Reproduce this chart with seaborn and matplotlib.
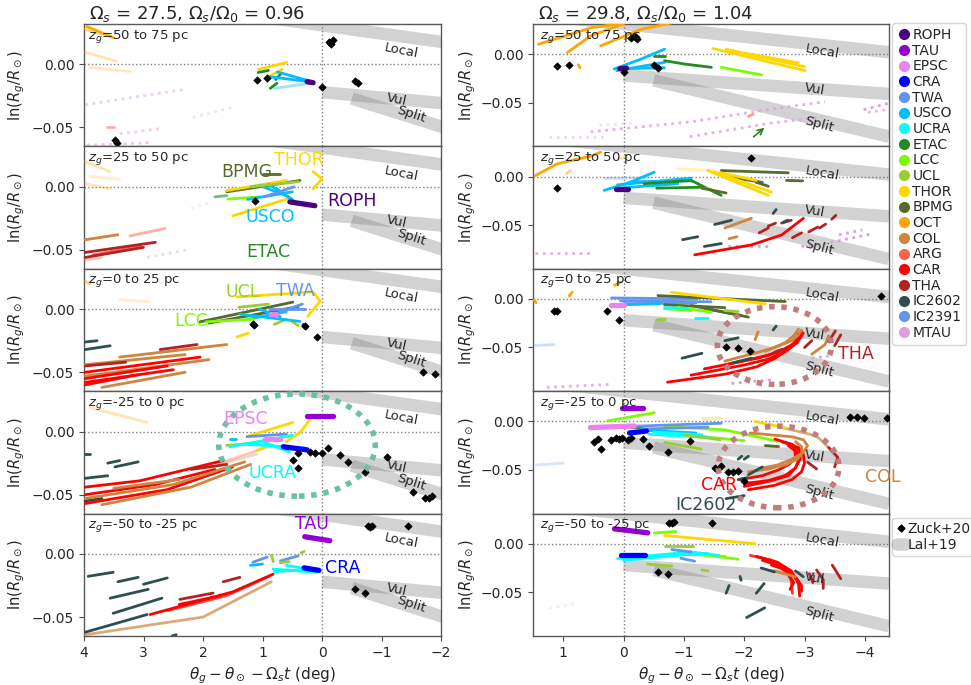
import numpy as np
import pandas as pd
import matplotlib
matplotlib.use("Agg")
import matplotlib.pyplot as plt
import seaborn as sns
from matplotlib.patches import Ellipse
from matplotlib.lines import Line2D

# ---------------- groups / colours ----------------
GROUPS = ["ROPH", "TAU", "EPSC", "CRA", "TWA", "USCO", "UCRA", "ETAC", "LCC", "UCL",
          "THOR", "BPMG", "OCT", "COL", "ARG", "CAR", "THA", "IC2602", "IC2391", "MTAU"]
COLORS = ["indigo", "darkviolet", "violet", "blue", "cornflowerblue", "deepskyblue", "cyan",
          "forestgreen", "lawngreen", "yellowgreen", "gold", "darkolivegreen", "orange", "peru",
          "tomato", "red", "firebrick", "darkslategray", "cornflowerblue", "plum"]
PAL = dict(zip(GROUPS, COLORS))

TITLES = [r"$\Omega_s$ = 27.5, $\Omega_s/\Omega_0$ = 0.96", r"$\Omega_s$ = 29.8, $\Omega_s/\Omega_0$ = 1.04"]
ZBINS = ["50 to 75", "25 to 50", "0 to 25", "-25 to 0", "-50 to -25"]
XTICKS_L = [4, 3, 2, 1, 0, -1, -2]
XTICKS_R = [1, 0, -1, -2, -3, -4]

# spiral arms (Lal+19)
ARM_names = ["Local", "Vul", "Split"]
ARM_x = [[1.0, -4.4], [0.0, -4.4], [-0.5, -4.4]]
ARM_y = [[0.0376, 0.002], [-0.022, -0.041], [-0.027, -0.085]]

# ---------------- left column tracks ----------------
L1_g = ["OCT", "OCT", "OCT", "OCT", "MTAU", "MTAU", "MTAU", "MTAU", "ARG", "THOR", "THOR",
        "ETAC", "ETAC", "ETAC", "USCO", "USCO", "USCO", "ROPH"]
L1_x = [[3.95, 3.5], [3.98, 3.7], [3.98, 3.45], [3.9, 3.23], [3.98, 2.34], [2.17, 1.5], [3.4, 2.72],
        [3.95, 2.84], [3.62, 3.5], [1.07, 0.59], [0.93, 0.67], [1.07, 0.9], [0.87, 0.76], [0.78, 0.7],
        [0.91, 0.2], [0.75, 0.15], [0.8, 0.2], [0.25, 0.15]]
L1_y = [[0.030, 0.021], [0.028, 0.024], [0.0097, 0.0024], [-0.0024, -0.0056], [-0.032, -0.020],
        [-0.042, -0.034], [-0.055, -0.051], [-0.064, -0.062], [-0.050, -0.050], [-0.004, 0.0016],
        [-0.0105, -0.004], [-0.0064, -0.0048], [-0.019, -0.015], [-0.012, -0.008],
        [-0.0097, -0.0137], [-0.006, -0.014], [-0.019, -0.015], [-0.0137, -0.0145]]
L1_a = [1, 0.5, 0.3, 0.25, 0.5, 0.3, 0.5, 0.6, 0.5, 1, 1, 1, 1, 1, 1, 1, 0.4, 1]
L1_zx = [3.48, 3.45, 1.09, 0.92, 0.0, -0.12, -0.15, -0.18, -0.55, -0.6]
L1_zy = [-0.060, -0.062, -0.012, -0.011, -0.018, 0.018, 0.016, 0.019, -0.0135, -0.015]

L2_g = ["OCT", "OCT", "OCT", "COL", "THA", "THA", "CAR", "ARG", "COL", "MTAU", "MTAU", "BPMG",
        "BPMG", "THOR", "THOR", "THOR", "LCC", "USCO", "USCO", "USCO", "USCO", "TWA", "ROPH",
        "ETAC", "UCL"]
L2_x = [[3.98, 3.56], [3.98, 3.56], [3.9, 3.4], [3.98, 3.43], [3.98, 2.8], [3.98, 3.0], [3.85, 3.05],
        [3.23, 2.64], [3.98, 3.7], [2.94, 2.27], [2.2, 1.9], [1.6, 0.37], [1.0, 0.7], [1.5, 0.54],
        [1.6, 0.6], [0.15, 0.0, 0.15], [1.58, 1.04], [1.25, 0.5], [1.05, 0.6], [0.9, 0.5],
        [0.75, 0.45], [0.97, 0.47], [0.54, 0.12], [1.8, 1.6], [1.2, 0.4]]
L2_y = [[0.020, 0.012], [0.0024, -0.0016], [0.008, 0.006], [-0.042, -0.038], [-0.052, -0.044],
        [-0.056, -0.048], [-0.054, -0.047], [-0.039, -0.033], [-0.058, -0.056], [-0.056, -0.050],
        [-0.017, -0.013], [-0.004, 0.005], [0.010, 0.010], [-0.023, -0.009], [-0.003, 0.005],
        [0.012, 0.0064, -0.0016], [-0.0097, -0.008], [-0.010, -0.004], [0.001, -0.007],
        [0.002, -0.010], [-0.002, -0.012], [-0.008, 0.0], [-0.012, -0.015], [-0.008, -0.007],
        [0.0, 0.004]]
L2_a = [0.3, 0.3, 0.2, 1, 1, 1, 0.6, 0.5, 0.4, 0.4, 0.2, 1, 1, 1, 1, 1, 1, 1, 1, 1, 1, 1, 1, 0.6, 1]
L2_zx = [1.13]
L2_zy = [-0.011]

L3_g = ["IC2602", "IC2602", "COL", "THA", "CAR", "CAR", "CAR", "COL", "COL", "THA", "COL", "CAR",
        "OCT", "OCT", "BPMG", "BPMG", "UCL", "THOR", "THOR", "USCO", "USCO", "USCO", "TWA", "TWA",
        "LCC", "UCL", "UCL", "EPSC", "ROPH"]
L3_x = [[3.98, 3.78], [3.98, 3.56], [3.4, 1.6], [2.72, 2.1], [3.98, 2.05], [3.98, 2.6], [3.98, 3.1],
        [3.98, 1.9], [3.7, 2.3], [3.98, 3.3], [3.98, 2.3], [3.98, 2.5], [3.98, 3.9], [3.4, 2.9],
        [2.05, 0.49], [1.9, 0.4], [1.4, 0.9], [1.43, 0.15, 0.03, 0.24], [1.43, 1.24], [1.38, 0.37],
        [1.25, 0.6], [1.05, 0.7], [0.87, 0.29], [0.7, 0.33], [1.95, 1.15], [0.8, 0.6], [0.5, 0.4],
        [0.85, 0.78], [0.3, 0.27]]
L3_y = [[-0.026, -0.025], [-0.032, -0.029], [-0.038, -0.028], [-0.032, -0.028], [-0.050, -0.038],
        [-0.055, -0.045], [-0.060, -0.052], [-0.053, -0.040], [-0.062, -0.050], [-0.045, -0.042],
        [-0.044, -0.036], [-0.058, -0.048], [0.022, 0.020], [0.0075, 0.006], [-0.010, 0.0056],
        [-0.011, 0.002], [0.0015, 0.004], [0.0097, 0.0137, 0.0064, -0.0056], [-0.022, -0.019],
        [-0.004, -0.0097], [-0.008, -0.002], [0.0, -0.006], [0.0, 0.0], [-0.002, 0.004],
        [-0.010, -0.008], [-0.012, -0.008], [-0.010, -0.013], [-0.004, -0.004], [-0.013, -0.014]]
L3_a = [1, 1, 1, 1, 1, 1, 1, 1, 1, 1, 1, 1, 0.5, 0.2, 1, 1, 1, 1, 1, 1, 1, 1, 1, 1, 1, 1, 1, 1, 1]
L3_zx = [1.16, 1.14, 0.29, 0.08, -1.7, -1.9]
L3_zy = [-0.012, -0.0125, -0.0137, -0.022, -0.050, -0.0516]

L4_g = ["OCT", "IC2602", "IC2602", "IC2602", "IC2602", "IC2602", "CAR", "CAR", "CAR", "THA", "COL",
        "COL", "COL", "COL", "CAR", "THOR", "THOR", "THOR", "UCL", "TWA", "EPSC", "UCRA", "UCRA",
        "UCRA", "CRA", "USCO", "TAU"]
L4_x = [[3.9, 2.94], [3.98, 3.6], [3.6, 3.4], [3.48, 3.09], [3.98, 3.7], [3.98, 3.9],
        [3.98, 3.06, 1.66], [3.98, 2.8, 1.8], [3.98, 2.6, 1.5], [2.2, 1.6], [3.98, 2.5, 1.3],
        [3.7, 2.2, 1.2], [3.5, 2.4], [2.0, 1.1], [1.7, 0.9], [1.26, 0.49], [0.6, 0.35, 0.2],
        [1.1, 0.95], [1.6, 1.1], [1.26, 0.6], [0.95, 0.7], [1.55, 0.5], [1.3, 0.3], [1.0, 0.55],
        [0.65, 0.25], [1.55, 1.45], [0.25, -0.19]]
L4_y = [[0.019, 0.0073], [-0.037, -0.035], [-0.025, -0.023], [-0.028, -0.024], [-0.055, -0.053],
        [-0.018, -0.018], [-0.044, -0.039, -0.023], [-0.050, -0.042, -0.030],
        [-0.057, -0.046, -0.028], [-0.030, -0.026], [-0.053, -0.042, -0.024],
        [-0.058, -0.044, -0.026], [-0.045, -0.038], [-0.030, -0.018], [-0.025, -0.012],
        [-0.004, 0.0073], [-0.008, 0.0, 0.0098], [-0.015, -0.012], [-0.011, -0.009],
        [-0.004, -0.002], [-0.006, -0.006], [-0.012, -0.003], [-0.010, -0.013], [-0.008, -0.016],
        [-0.012, -0.0145], [-0.006, -0.006], [0.012, 0.012]]
L4_a = [0.3, 1, 1, 1, 1, 1, 1, 1, 1, 1, 1, 1, 1, 0.3, 0.25, 1, 1, 1, 1, 1, 1, 1, 1, 1, 1, 1, 1]
L4_zx = [0.4, 0.49, 0.4, 0.2, 0.12, 0.0, -0.1, -0.3, -0.44, -0.72, -1.09, -1.53, -1.73, -1.8, -1.85]
L4_zy = [-0.017, -0.0226, -0.029, -0.016, -0.017, -0.017, -0.013, -0.0185, -0.024, -0.032, -0.020,
         -0.048, -0.053, -0.053, -0.051]

L5_g = ["IC2602", "IC2602", "IC2602", "IC2602", "IC2602", "IC2602", "IC2602", "COL", "CAR", "CAR",
        "CAR", "THA", "THA", "TWA", "TWA", "USCO", "UCL", "UCL", "UCL", "UCRA", "UCRA", "UCRA",
        "CRA", "TAU"]
L5_x = [[3.93, 3.51], [3.43, 3.09], [3.0, 2.6], [3.56, 2.92], [3.51, 2.69], [3.98, 2.94], [2.52, 2.45],
        [3.98, 2.0, 0.85], [2.89, 1.5, 0.82], [2.6, 1.6, 0.9], [2.4, 1.7], [2.39, 1.83], [1.66, 1.38],
        [1.16, 0.92], [0.7, 0.4], [1.2, 1.0], [0.85, 0.82], [0.7, 0.55], [0.35, 0.3], [0.82, 0.08],
        [0.8, 0.2], [0.6, 0.1], [0.3, 0.05], [0.29, -0.13]]
L5_y = [[-0.0177, -0.0145], [-0.022, -0.0185], [-0.024, -0.019], [-0.035, -0.028], [-0.047, -0.035],
        [-0.062, -0.048], [-0.065, -0.064], [-0.064, -0.050, -0.022], [-0.048, -0.030, -0.016],
        [-0.045, -0.033, -0.018], [-0.040, -0.033], [-0.036, -0.031], [-0.022, -0.0185],
        [-0.0065, -0.0024], [-0.0055, -0.0015], [-0.009, -0.008], [-0.001, -0.006], [-0.007, -0.006],
        [0.001, 0.002], [-0.012, -0.0145], [-0.014, -0.012], [-0.009, -0.013], [-0.011, -0.013],
        [0.0137, 0.0105]]
L5_a = [1, 1, 1, 1, 1, 1, 1, 0.7, 1, 0.7, 1, 1, 1, 1, 1, 1, 1, 1, 1, 1, 1, 1, 1, 1]
L5_zx = [-0.78, -0.84, -0.81, -1.45, -0.55, -0.72]
L5_zy = [0.022, 0.022, 0.021, 0.022, -0.028, -0.031]

# ---------------- right column tracks ----------------
R1_g = ["OCT", "OCT", "OCT", "OCT", "USCO", "USCO", "USCO", "ROPH", "ETAC", "ETAC", "LCC", "THOR",
        "THOR", "THOR", "THOR", "MTAU", "MTAU", "MTAU", "MTAU", "MTAU", "MTAU", "ARG"]
R1_x = [[1.41, 0.54, -0.01], [0.93, 0.54, 0.0], [0.38, -0.29, -0.79], [0.75, 0.72],
        [0.155, -0.29, -0.68], [0.11, -0.68], [0.0, -0.68], [0.06, -0.05], [-0.5, -0.68],
        [-0.68, -1.01, -1.456], [-1.62, -2.29], [-1.48, -3.01], [-1.7, -2.8], [-2.0, -2.9],
        [-2.1, -3.0], [0.545, -1.12, -2.51, -3.34], [-1.1, -2.4, -3.3], [1.24, 0.32], [0.4, -0.2],
        [-3.98, -4.4], [-4.05, -4.4], [-2.07, -2.15]]
R1_y = [[0.0102, 0.027, 0.032], [0.0017, 0.019, 0.031], [0.0085, 0.0255, 0.032], [-0.011, -0.014],
        [-0.0153, -0.0051, 0.0051], [-0.017, -0.0085], [-0.015, -0.014], [-0.015, -0.0145],
        [-0.0017, -0.0017], [-0.0068, -0.0102, -0.0136], [-0.0136, -0.0214], [0.0058, -0.017],
        [0.005, -0.010], [0.001, -0.009], [0.000, -0.013], [-0.080, -0.0697, -0.056, -0.049],
        [-0.085, -0.0714, -0.0646], [-0.085, -0.085], [-0.073, -0.071], [-0.0572, -0.0505],
        [-0.060, -0.057], [-0.064, -0.062]]
R1_a = [1, 1, 1, 1, 1, 1, 1, 1, 1, 1, 1, 1, 1, 1, 1, 0.8, 0.8, 0.4, 0.3, 1, 0.7, 0.6]
R1_zx = [1.1, 0.9, 0.0, -0.13, -0.18, -0.2, -0.23, -0.51, -0.57]
R1_zy = [-0.012, -0.011, -0.018, 0.017, 0.019, 0.018, 0.016, -0.011, -0.0143]

R2_g = ["OCT", "OCT", "OCT", "IC2391", "USCO", "USCO", "USCO", "USCO", "ROPH", "ETAC", "ETAC",
        "LCC", "BPMG", "BPMG", "BPMG", "BPMG", "BPMG", "THOR", "THOR", "THOR", "THOR", "CAR",
        "THA", "THA", "THA", "THA", "THA", "THA", "THA", "COL", "COL", "IC2602", "IC2602", "IC2602",
        "IC2602", "IC2602", "MTAU", "MTAU", "MTAU", "MTAU"]
R2_x = [[1.46, 1.1, 0.545, 0.38], [0.95, 0.88], [0.1, -0.05], [0.32, -0.45], [0.32, -0.12, -0.51],
        [0.1, -1.12], [0.0, -0.9], [-0.12, -1.12], [0.13, -0.07], [-0.34, -1.12, -1.62],
        [-0.55, -1.3], [-1.3, -1.45], [-1.62, -2.73], [-2.7, -2.97], [-1.7, -2.3], [-1.3, -1.7],
        [-2.2, -2.4], [-1.4, -2.4], [-1.5, -2.45], [-1.6, -2.2], [-0.9, -1.5],
        [-1.18, -2.12, -2.62, -2.98], [-2.25, -2.4], [-2.4, -2.52], [-2.62, -2.78], [-2.8, -2.95],
        [-3.07, -3.22], [-3.25, -3.35], [-3.45, -3.52], [-1.68, -2.12], [-1.75, -1.88],
        [-1.51, -1.79], [-0.98, -1.23], [-1.34, -1.62], [-2.48, -2.53], [-2.65, -2.72],
        [-3.57, -3.96], [-2.95, -3.34, -4.12], [-1.73, -2.4], [1.46, 0.545]]
R2_y = [[0.001, 0.013, 0.021, 0.025], [0.003, 0.006], [0.017, 0.021], [-0.002, -0.001],
        [-0.0143, -0.0057, 0.0045], [-0.0085, -0.0017], [-0.0115, -0.0075], [-0.0055, -0.0045],
        [-0.0133, -0.0133], [-0.0074, -0.004, -0.0194], [-0.012, -0.011], [-0.012, -0.013],
        [0.0061, 0.0038], [-0.004, -0.0045], [0.0, -0.006], [-0.012, -0.017], [-0.006, -0.010],
        [0.0061, -0.0194], [0.005, -0.016], [0.004, -0.004], [0.008, 0.006],
        [-0.0806, -0.0704, -0.0602, -0.0431], [-0.058, -0.053], [-0.051, -0.048], [-0.048, -0.045],
        [-0.063, -0.058], [-0.057, -0.052], [-0.053, -0.049], [-0.044, -0.040], [-0.053, -0.043],
        [-0.064, -0.062], [-0.0494, -0.045], [-0.065, -0.062], [-0.072, -0.069], [-0.038, -0.034],
        [-0.047, -0.045], [-0.060, -0.055], [-0.072, -0.069, -0.059], [-0.072, -0.072],
        [-0.079, -0.079]]
R2_a = [1, 0.5, 0.3, 0.3, 1, 1, 1, 1, 1, 1, 1, 1, 1, 1, 1, 1, 1, 1, 1, 1, 0.3, 1, 1, 1, 1, 1, 1,
        1, 1, 1, 1, 1, 1, 1, 1, 1, 1, 1, 1, 0.8]
R2_zx = [1.1, -2.12]
R2_zy = [-0.0119, 0.0188]

R3_g = ["OCT", "OCT", "OCT", "TWA", "IC2391", "IC2391", "IC2391", "EPSC", "USCO", "BPMG", "BPMG",
        "BPMG", "BPMG", "THOR", "LCC", "LCC", "UCRA", "UCRA", "UCL", "UCL", "CAR", "CAR", "CAR",
        "CAR", "COL", "COL", "COL", "COL", "THA", "THA", "THA", "THA", "IC2602", "IC2602",
        "IC2602", "IC2602", "MTAU", "MTAU", "MTAU"]
R3_x = [[1.48, 1.45], [0.9, 0.85], [0.15, 0.05], [0.2, -1.22], [0.05, -1.45], [0.0, -1.2],
        [1.46, 1.15], [0.2, 0.0], [0.0, -0.6], [-0.57, -2.68], [-1.12, -2.07], [-1.35, -1.95],
        [-0.68, -1.68], [-0.79, -2.35], [-0.9, -1.45], [-0.68, -1.12], [-0.68, -1.07], [-1.18, -1.4],
        [-0.55, -0.68], [-1.68, -1.9], [-0.73, -1.68, -2.2, -2.51, -2.75, -2.9],
        [-1.12, -2.0, -2.4, -2.68, -2.88, -2.98], [-1.34, -2.23, -2.55, -2.79, -2.9, -2.95],
        [-1.68, -2.4, -2.65, -2.82, -2.9], [-1.68, -2.23, -2.55, -2.79, -2.9, -2.95],
        [-2.35, -2.68, -2.82, -2.9], [-2.18, -2.23], [-3.12, -3.34, -3.4], [-3.0, -3.12],
        [-3.4, -3.51], [-3.5, -3.6], [-2.5, -2.62], [-0.97, -1.3], [-1.68, -1.9], [-2.48, -2.53],
        [-1.8, -2.12], [-3.12, -3.4], [-1.79, -2.51], [1.27, 0.21]]
R3_y = [[-0.001, -0.004], [0.003, 0.007], [0.014, 0.017], [0.001, 0.0], [-0.002, -0.003],
        [-0.005, -0.004], [-0.048, -0.047], [-0.006, -0.006], [-0.006, -0.005], [0.0034, -0.0027],
        [-0.0068, -0.0187], [-0.010, -0.017], [-0.006, -0.009], [0.0068, -0.0051],
        [-0.0085, -0.0136], [-0.010, -0.012], [-0.009, -0.010], [-0.0197, -0.0197],
        [-0.021, -0.021], [-0.012, -0.013], [-0.0857, -0.0775, -0.070, -0.0612, -0.051, -0.0408],
        [-0.0785, -0.068, -0.062, -0.0544, -0.045, -0.035],
        [-0.072, -0.061, -0.055, -0.048, -0.041, -0.034], [-0.068, -0.058, -0.052, -0.046, -0.036],
        [-0.064, -0.055, -0.049, -0.043, -0.037, -0.032], [-0.054, -0.045, -0.038, -0.031],
        [-0.042, -0.034], [-0.057, -0.047, -0.038], [-0.050, -0.043], [-0.044, -0.033],
        [-0.048, -0.037], [-0.055, -0.052], [-0.061, -0.056], [-0.043, -0.040], [-0.032, -0.028],
        [-0.066, -0.061], [-0.061, -0.059], [-0.087, -0.083], [-0.091, -0.088]]
R3_a = [1, 1, 1, 1, 1, 1, 0.3, 1, 1, 1, 1, 1, 1, 1, 1, 1, 1, 1, 1, 1, 1, 1, 1, 1, 1, 1, 1, 1, 1,
        1, 1, 1, 1, 1, 1, 1, 1, 1, 0.8]
R3_zx = [1.16, 1.1, 0.27, 0.07, -1.7, -1.9, -2.1, -4.26]
R3_zy = [-0.012, -0.012, -0.012, -0.0214, -0.049, -0.051, -0.054, 0.0034]

R4_g = ["TAU", "LCC", "EPSC", "CRA", "ETAC", "IC2391", "IC2391", "USCO", "UCRA", "UCRA", "LCC",
        "LCC", "UCL", "UCL", "THOR", "THOR", "BPMG", "CAR", "CAR", "CAR", "CAR", "COL", "COL",
        "COL", "THA", "THA", "IC2602", "IC2602", "IC2602", "IC2602", "IC2602", "IC2391"]
R4_x = [[0.02, -0.32], [0.27, -0.51], [0.55, -0.18], [-0.1, -0.38], [-0.12, -0.3],
        [-0.2, -1.12, -1.62], [-0.3, -1.4], [-0.3, -1.2], [-0.42, -1.42], [-0.5, -1.3],
        [-0.68, -1.68, -2.57], [-1.2, -2.0], [-0.68, -1.29], [-1.0, -1.6], [-2.18, -2.68],
        [-1.3, -1.62], [-2.35, -2.57],
        [-2.0, -2.4, -2.68, -2.85, -2.93, -2.92, -2.79, -2.51],
        [-2.07, -2.5, -2.79, -2.95, -3.0, -2.98, -2.9, -2.62],
        [-1.93, -2.3, -2.57, -2.75, -2.85, -2.84, -2.73],
        [-2.0, -2.4, -2.73, -2.85, -2.9, -2.88, -2.8],
        [-2.07, -2.4, -2.68, -2.88, -2.96, -2.95, -2.85],
        [-2.23, -2.55, -2.79, -2.98, -3.05, -2.98, -2.8, -2.1], [-2.6, -3.2, -3.45],
        [-3.4, -3.55, -3.5], [-3.05, -3.2], [-1.9, -1.96], [-2.0, -2.07], [-2.07, -2.3],
        [-1.7, -2.0], [-1.9, -2.05], [1.45, 1.0]]
R4_y = [[0.014, 0.014], [0.0003, 0.0089], [-0.0065, -0.0048], [-0.012, -0.010], [-0.006, -0.006],
        [-0.005, -0.003, -0.002], [-0.008, -0.006], [-0.009, -0.012], [-0.0133, -0.0166],
        [-0.011, -0.014], [-0.0054, -0.0088, -0.0207], [-0.015, -0.020], [-0.0218, -0.0286],
        [-0.014, -0.019], [-0.0003, -0.0065], [0.003, 0.003], [-0.025, -0.026],
        [-0.064, -0.061, -0.0558, -0.048, -0.0388, -0.030, -0.0235, -0.0184],
        [-0.0704, -0.066, -0.060, -0.052, -0.043, -0.034, -0.027, -0.021],
        [-0.060, -0.056, -0.050, -0.044, -0.037, -0.030, -0.025],
        [-0.067, -0.062, -0.056, -0.048, -0.040, -0.032, -0.026],
        [-0.052, -0.049, -0.045, -0.039, -0.033, -0.026, -0.021],
        [-0.049, -0.045, -0.039, -0.032, -0.025, -0.019, -0.016, -0.012],
        [-0.006, -0.015, -0.030], [-0.027, -0.037, -0.047], [-0.042, -0.049], [-0.039, -0.036],
        [-0.039, -0.036], [-0.055, -0.047], [-0.0796, -0.0765], [-0.060, -0.058], [-0.045, -0.043]]
R4_a = [1, 1, 1, 1, 1, 1, 1, 1, 1, 1, 1, 1, 1, 1, 1, 0.4, 1, 1, 1, 1, 1, 1, 1, 0.7, 1, 1, 1, 1, 1,
        1, 1, 0.25]
R4_zx = [0.49, 0.43, 0.38, 0.2, 0.12, 0.07, 0.02, -0.07, -0.12, -0.32, -0.43, -0.74, -1.1, -1.51,
         -1.62, -1.73, -1.82, -1.9, -2.0, -3.76, -3.87, -3.98, -4.37]
R4_zy = [-0.0208, -0.0184, -0.0286, -0.019, -0.0175, -0.0185, -0.0175, -0.019, -0.017, -0.018,
         -0.025, -0.032, -0.020, -0.048, -0.046, -0.052, -0.052, -0.051, -0.061, 0.0045, 0.0045,
         0.0035, 0.003]

R5_g = ["TAU", "LCC", "THOR", "UCL", "CRA", "UCRA", "UCRA", "UCRA", "IC2391", "TWA", "LCC", "LCC",
        "UCL", "UCL", "CAR", "CAR", "CAR", "CAR", "COL", "IC2602", "IC2602", "IC2602", "IC2602",
        "IC2602", "IC2602", "THA", "THA", "THA", "MTAU"]
R5_x = [[0.15, -0.4], [-0.51, -0.87], [-0.68, -2.18], [-0.68, -1.15], [0.04, -0.35],
        [0.1, -1.12, -1.57], [0.0, -0.9], [-0.3, -1.4], [-0.8, -1.12], [-0.95, -1.18], [-1.0, -1.9],
        [-1.12, -1.68], [-0.4, -0.8], [-1.3, -1.4], [-2.1, -2.45, -2.68, -2.78, -2.8],
        [-2.2, -2.55, -2.78, -2.9, -2.92], [-2.3, -2.55, -2.72, -2.82, -2.76],
        [-2.45, -2.7, -2.86, -2.95, -2.95], [-2.5, -2.85], [-2.28, -2.5], [-2.85, -2.98],
        [-1.93, -1.95], [-1.75, -1.7], [-2.33, -2.2], [-2.34, -2.04], [-3.2, -3.31, -3.31],
        [-3.46, -3.6], [-3.08, -3.14], [1.23, 0.8]]
R5_y = [[0.0153, 0.0112], [0.011, 0.0126], [0.0085, 0.0], [-0.0026, -0.0026], [-0.012, -0.012],
        [-0.0153, -0.0085, -0.012], [-0.017, -0.012], [-0.014, -0.010], [-0.006, -0.0085],
        [-0.015, -0.018], [-0.0085, -0.016], [-0.011, -0.013], [-0.021, -0.023], [-0.027, -0.028],
        [-0.012, -0.017, -0.025, -0.038, -0.051], [-0.013, -0.019, -0.028, -0.041, -0.054],
        [-0.017, -0.022, -0.030, -0.040, -0.047], [-0.022, -0.027, -0.035, -0.043, -0.049],
        [-0.028, -0.034], [-0.025, -0.029], [-0.028, -0.034], [-0.0337, -0.0377], [-0.043, -0.051],
        [-0.041, -0.051], [-0.066, -0.076], [-0.027, -0.037, -0.046], [-0.022, -0.036],
        [-0.031, -0.040], [-0.066, -0.062]]
R5_a = [1, 1, 1, 1, 1, 1, 1, 1, 1, 1, 1, 1, 1, 1, 0.8, 1, 1, 1, 1, 1, 1, 1, 1, 1, 1, 1, 1, 1, 0.2]
R5_zx = [-0.76, -0.8, -0.84, -1.46, -0.57, -0.73]
R5_zy = [0.021, 0.021, 0.022, 0.021, -0.029, -0.031]

PANELS = {
    (0, 0): (L1_g, L1_x, L1_y, L1_a, L1_zx, L1_zy),
    (0, 1): (L2_g, L2_x, L2_y, L2_a, L2_zx, L2_zy),
    (0, 2): (L3_g, L3_x, L3_y, L3_a, L3_zx, L3_zy),
    (0, 3): (L4_g, L4_x, L4_y, L4_a, L4_zx, L4_zy),
    (0, 4): (L5_g, L5_x, L5_y, L5_a, L5_zx, L5_zy),
    (1, 0): (R1_g, R1_x, R1_y, R1_a, R1_zx, R1_zy),
    (1, 1): (R2_g, R2_x, R2_y, R2_a, R2_zx, R2_zy),
    (1, 2): (R3_g, R3_x, R3_y, R3_a, R3_zx, R3_zy),
    (1, 3): (R4_g, R4_x, R4_y, R4_a, R4_zx, R4_zy),
    (1, 4): (R5_g, R5_x, R5_y, R5_a, R5_zx, R5_zy),
}

# long-form table of all track vertices
rows = []
for (ci, ri), (g, xs, ys, al, _, _) in PANELS.items():
    for k, (gg, xx, yy, aa) in enumerate(zip(g, xs, ys, al)):
        for j, (a, b) in enumerate(zip(xx, yy)):
            rows.append(dict(col=ci, row=ri, tid=f"{ci}{ri}_{k}", grp=gg, x=a, y=b,
                             fade=aa, order=j))
df = pd.DataFrame(rows)

THICK = {"TAU", "EPSC", "CRA", "ROPH"}

def kind(g):
    if g == "MTAU":
        return "dot"
    if g in THICK:
        return "thick"
    return "norm"

df["kind"] = df["grp"].map(kind)

# ---------------- figure ----------------
sns.set_style("ticks")
plt.rcParams["font.family"] = ["DejaVu Sans"]
plt.rcParams["axes.edgecolor"] = "0.35"
plt.rcParams["axes.linewidth"] = 1.0

fig = plt.figure(figsize=(9.71, 6.85), dpi=100)
W, H = 971.0, 685.0
col_x = [84 / W, 533 / W]
col_w = [357 / W, 356 / W]
row_h = 122.4
xlims = [(4, -2), (1.5, -4.4)]
ylims = [(-0.065, 0.032), (-0.095, 0.031)]
arm_lab = [[(-1.33, 0.0105, -11), (-1.26, -0.028, -12), (-1.5, -0.040, -18)],
           [(-3.29, 0.003, -10), (-3.17, -0.036, -10), (-3.25, -0.073, -15)]]

axes = {}
for ci in range(2):
    for ri in range(5):
        top = 24 + row_h * ri
        ax = fig.add_axes([col_x[ci], 1 - (top + row_h) / H, col_w[ci], row_h / H])
        axes[(ci, ri)] = ax
        ax.set_xlim(*xlims[ci])
        ax.set_ylim(*ylims[ci])
        # spiral arms
        for nm, ax_x, ax_y in zip(ARM_names, ARM_x, ARM_y):
            ax.plot(ax_x, ax_y, color="gray", alpha=0.35, lw=9, solid_capstyle="butt", zorder=1)
        for nm, (tx, ty, rot) in zip(ARM_names, arm_lab[ci]):
            ax.text(tx, ty, nm, rotation=rot, ha="center", va="center", fontsize=9.5, zorder=6)
        ax.axhline(0, color="gray", ls=":", lw=1, zorder=1.5)
        ax.axvline(0, color="gray", ls=":", lw=1, zorder=1.5)

        sub = df[(df.col == ci) & (df.row == ri)]
        for (fd, kd), s in sub.groupby(["fade", "kind"]):
            lw = {"norm": 2.0, "thick": 3.8, "dot": 2.0}[kd]
            ls = ":" if kd == "dot" else "-"
            sns.lineplot(data=s, x="x", y="y", hue="grp", units="tid", estimator=None,
                         sort=False, palette=PAL, legend=False, ax=ax, alpha=fd, lw=lw,
                         linestyle=ls, solid_capstyle="round", solid_joinstyle="round",
                         zorder=3)
        zx, zy = PANELS[(ci, ri)][4], PANELS[(ci, ri)][5]
        sns.scatterplot(x=zx, y=zy, marker="D", s=14, color="k", edgecolor="k",
                        linewidth=0.5, ax=ax, zorder=7, legend=False)

        ax.text(0.01 if ci == 0 else 0.02, 0.97, r"$z_g$=" + ZBINS[ri] + " pc",
                transform=ax.transAxes, ha="left", va="top", fontsize=9.5, zorder=8)
        ax.set_yticks([-0.05, 0.0])
        ax.set_ylabel(r"$\ln(R_g/R_\odot)$", fontsize=10.5)
        ax.tick_params(axis="both", labelsize=10, direction="out", length=3.5, color="0.3")
        if ri < 4:
            ax.tick_params(axis="x", bottom=False, labelbottom=False)
            ax.set_xlabel("")
        else:
            ax.set_xticks(XTICKS_L if ci == 0 else XTICKS_R)
            ax.set_xlabel(r"$\theta_g - \theta_\odot - \Omega_s t$ (deg)", fontsize=11)
        if ri == 0:
            ax.set_title(TITLES[ci], loc="left", fontsize=13, pad=3, x=0.015)
    for ri in range(5):
        axes[(ci, ri)].yaxis.set_label_coords(-0.16 if ci == 0 else -0.155, 0.5)

# group name annotations
LAB_L = [(1, "THOR", 0.39, 0.021), (1, "BPMG", 1.26, 0.012), (1, "ROPH", -0.5, -0.011),
         (1, "USCO", 0.87, -0.024), (1, "ETAC", 0.9, -0.052), (2, "UCL", 1.33, 0.0137),
         (2, "TWA", 0.45, 0.0145), (2, "LCC", 2.2, -0.0097), (3, "EPSC", 1.28, 0.0098),
         (3, "UCRA", 0.84, -0.033), (4, "TAU", 0.17, 0.024), (4, "CRA", -0.35, -0.011)]
LAB_R = [(2, "THA", -3.85, -0.057), (3, "CAR", -1.58, -0.066), (3, "IC2602", -1.37, -0.086),
         (3, "COL", -4.29, -0.057)]
for ci, labs in enumerate([LAB_L, LAB_R]):
    for ri, txt, tx, ty in labs:
        axes[(ci, ri)].text(tx, ty, txt, color=PAL[txt], fontsize=12.5, ha="center",
                            va="center", zorder=9)

# dotted ellipses
axes[(0, 3)].add_patch(Ellipse((0.42, -0.0107), 2.63, 0.081, fill=False, ls=(0, (1, 1.2)),
                               lw=4, ec="#6cc0a3", zorder=8))
axes[(1, 2)].add_patch(Ellipse((-2.5, -0.048), 1.89, 0.080, fill=False, ls=(0, (1, 1.2)),
                               lw=4, ec="#bf7d7d", zorder=8))
axes[(1, 3)].add_patch(Ellipse((-2.57, -0.047), 2.0, 0.084, fill=False, ls=(0, (1, 1.2)),
                               lw=4, ec="#bf7d7d", zorder=8))
axes[(1, 0)].annotate("", xy=(-2.37, -0.074), xytext=(-2.12, -0.087),
                      arrowprops=dict(arrowstyle="->", color="forestgreen", lw=1.2), zorder=9)

# legends
h1 = [Line2D([], [], marker="o", ls="", color=c, markersize=7, label=g)
      for g, c in zip(GROUPS, COLORS)]
leg1 = fig.legend(handles=h1, loc="upper left", bbox_to_anchor=(0.919, 0.966), fontsize=10,
                  labelspacing=0.12, handletextpad=0.1, handlelength=1.0, borderpad=0.35,
                  borderaxespad=0, frameon=True)
h2 = [Line2D([], [], marker="D", ls="", color="k", markersize=3.5, label="Zuck+20"),
      Line2D([], [], color="gray", alpha=0.35, lw=9, label="Lal+19")]
leg2 = fig.legend(handles=h2, loc="upper left", bbox_to_anchor=(0.919, 0.244), fontsize=10,
                  labelspacing=0.15, handletextpad=0.2, handlelength=0.6, borderpad=0.3,
                  borderaxespad=0, frameon=True)

fig.savefig("out.png", dpi=100)
